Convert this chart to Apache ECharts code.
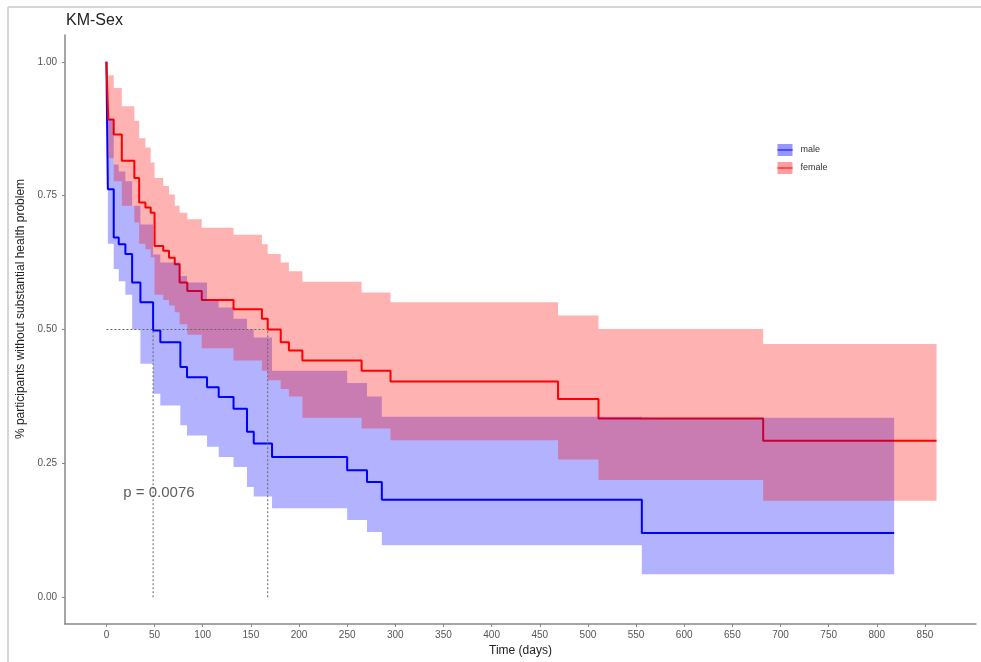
<!DOCTYPE html>
<html>
<head>
<meta charset="utf-8">
<title>KM-Sex</title>
<script src="https://cdn.jsdelivr.net/npm/echarts@6/dist/echarts.min.js"></script>
<style>
  html, body { margin: 0; padding: 0; background: #fff; }
  #chart { width: 981px; height: 662px; }
</style>
</head>
<body>
<div id="chart"></div>
<script>
// Axis ticks
const xTicks = [0, 50, 100, 150, 200, 250, 300, 350, 400, 450, 500, 550, 600, 650, 700, 750, 800, 850];
const yTicks = [0, 0.25, 0.5, 0.75, 1.0];
const yTickLabels = ['0.00', '0.25', '0.50', '0.75', '1.00'];

// Kaplan-Meier estimate for males: event times (days), survival, 95% CI
const maleTime  = [0, 1.5, 7.6, 12.8, 19.7, 26.7, 35.3, 48.5, 56, 76.8, 83.7, 104.5, 116.6, 132, 146, 153, 172, 250, 270.6, 286, 556, 818];
const maleSurv  = [1, 0.762, 0.672, 0.659, 0.641, 0.588, 0.551, 0.498, 0.476, 0.430, 0.411, 0.392, 0.374, 0.352, 0.309, 0.287, 0.262, 0.237, 0.215, 0.182, 0.120, 0.120];
const maleUpper = [1, 0.892, 0.808, 0.795, 0.777, 0.731, 0.696, 0.640, 0.625, 0.600, 0.588, 0.554, 0.541, 0.520, 0.500, 0.485, 0.423, 0.400, 0.375, 0.337, 0.335, 0.335];
const maleLower = [1, 0.660, 0.613, 0.590, 0.565, 0.500, 0.436, 0.380, 0.358, 0.321, 0.302, 0.281, 0.262, 0.243, 0.206, 0.188, 0.166, 0.144, 0.122, 0.097, 0.043, 0.043];

// Kaplan-Meier estimate for females
const femaleTime  = [0, 2, 7.6, 16, 29, 34, 40.5, 46, 50, 59, 65, 71, 76, 84, 99, 132, 161.5, 167.5, 181, 189.5, 203.5, 265, 295, 469, 511, 682, 862];
const femaleSurv  = [1, 0.892, 0.864, 0.815, 0.783, 0.737, 0.728, 0.718, 0.656, 0.647, 0.634, 0.622, 0.588, 0.572, 0.555, 0.538, 0.520, 0.500, 0.476, 0.461, 0.442, 0.423, 0.403, 0.370, 0.334, 0.292, 0.292];
const femaleUpper = [1, 0.975, 0.951, 0.917, 0.890, 0.857, 0.840, 0.812, 0.783, 0.768, 0.752, 0.731, 0.718, 0.706, 0.690, 0.677, 0.659, 0.641, 0.625, 0.609, 0.589, 0.569, 0.551, 0.526, 0.501, 0.473, 0.473];
const femaleLower = [1, 0.820, 0.777, 0.731, 0.700, 0.660, 0.650, 0.635, 0.565, 0.555, 0.545, 0.532, 0.510, 0.490, 0.465, 0.442, 0.423, 0.405, 0.389, 0.375, 0.335, 0.315, 0.293, 0.257, 0.219, 0.180, 0.180];

// Log-rank test annotation
const pText = 'p = 0.0076';
const pPos = [17.5, 0.195];

const groupNames = ['male', 'female'];
const yTitle = '% participants without substantial health problem';

const MALE_LINE = '#0000ff';
const FEMALE_LINE = '#ff0000';
const MALE_FILL = 'rgba(0,0,255,0.3)';
const FEMALE_FILL = 'rgba(255,0,0,0.3)';
const FONT = '"Liberation Sans", Arial, sans-serif';

function pairs(t, v) { return t.map((x, i) => [x, v[i]]); }
function medianTime(t, s) {
  for (let i = 0; i < t.length; i++) if (s[i] <= 0.5) return t[i];
  return null;
}

const maleMedian = medianTime(maleTime, maleSurv);
const femaleMedian = medianTime(femaleTime, femaleSurv);

// Survival curves sit underneath the ribbons
function stepLine(name, data, color) {
  return {
    name, type: 'line', step: 'end', data, z: 1,
    symbol: 'none', silent: true,
    lineStyle: { color, width: 2 },
    itemStyle: { color }
  };
}

// Stepped confidence ribbon: upper edge left-to-right, lower edge back again
function ribbon(t, lo, hi, fill, z) {
  return {
    type: 'custom', silent: true, z,
    data: [[t[0], lo[0]]],
    renderItem: (params, api) => {
      const pts = [];
      for (let i = 0; i < t.length; i++) {
        pts.push(api.coord([t[i], hi[i]]));
        if (i + 1 < t.length) pts.push(api.coord([t[i + 1], hi[i]]));
      }
      for (let i = t.length - 1; i >= 0; i--) {
        if (i + 1 < t.length) pts.push(api.coord([t[i + 1], lo[i]]));
        pts.push(api.coord([t[i], lo[i]]));
      }
      return { type: 'polygon', shape: { points: pts }, style: { fill: fill } };
    }
  };
}

function dotted(data) {
  return {
    type: 'line', data, symbol: 'none', silent: true, z: 5,
    lineStyle: { color: '#666', width: 1, type: [2, 2] }
  };
}

const chart = echarts.init(document.getElementById('chart'), null, { renderer: 'canvas' });

chart.setOption({
  animation: false,
  backgroundColor: '#fff',
  title: {
    text: 'KM-Sex', left: 66, top: 13, padding: 0,
    textStyle: { fontFamily: FONT, fontSize: 16, fontWeight: 'normal', color: '#222' }
  },
  grid: { left: 65, right: 5, top: 35, bottom: 36, containLabel: false },
  xAxis: {
    type: 'value', min: -43, max: 903,
    name: 'Time (days)', nameLocation: 'middle', nameGap: 21,
    nameTextStyle: { fontFamily: FONT, fontSize: 12, color: '#222' },
    axisLine: { show: true, onZero: false, lineStyle: { color: '#888', width: 1.5 } },
    axisTick: { show: true, length: 3, customValues: xTicks, lineStyle: { color: '#888' } },
    axisLabel: { customValues: xTicks, margin: 6, fontFamily: FONT, fontSize: 10, color: '#555' },
    splitLine: { show: false }
  },
  yAxis: {
    type: 'value', min: -0.05, max: 1.05,
    axisLine: { show: true, onZero: false, lineStyle: { color: '#888', width: 1.5 } },
    axisTick: { show: true, length: 3, customValues: yTicks, lineStyle: { color: '#888' } },
    axisLabel: {
      customValues: yTicks, margin: 8, fontFamily: FONT, fontSize: 10, color: '#555',
      formatter: (v) => yTickLabels[yTicks.findIndex(t => Math.abs(t - v) < 1e-9)]
    },
    splitLine: { show: false }
  },
  series: [
    stepLine(groupNames[0], pairs(maleTime, maleSurv), MALE_LINE),
    stepLine(groupNames[1], pairs(femaleTime, femaleSurv), FEMALE_LINE),
    ribbon(maleTime, maleLower, maleUpper, MALE_FILL, 3),
    ribbon(femaleTime, femaleLower, femaleUpper, FEMALE_FILL, 4),
    // median survival guides
    dotted([[0, 0.5], [Math.max(maleMedian, femaleMedian), 0.5]]),
    dotted([[maleMedian, 0], [maleMedian, 0.5]]),
    dotted([[femaleMedian, 0], [femaleMedian, 0.5]]),
    // p-value
    {
      type: 'scatter', data: [pPos], symbolSize: 0, silent: true, z: 6,
      label: {
        show: true, position: 'right', distance: 0, formatter: pText,
        fontFamily: FONT, fontSize: 15, color: '#333'
      }
    }
  ],
  graphic: [
    // outer frame
    { type: 'line', z: 10, shape: { x1: 8, y1: 7, x2: 981, y2: 7 }, style: { stroke: '#c8c8c8', lineWidth: 1.5 } },
    { type: 'line', z: 10, shape: { x1: 8, y1: 7, x2: 8, y2: 662 }, style: { stroke: '#c8c8c8', lineWidth: 1.5 } },
    // y-axis title
    {
      type: 'text', z: 10, x: 21, y: 309, rotation: Math.PI / 2,
      style: { text: yTitle, fontFamily: FONT, fontSize: 12, fill: '#222', align: 'center', verticalAlign: 'middle' }
    },
    // legend
    {
      type: 'group', left: 775, top: 144, z: 10,
      children: [
        { type: 'rect', shape: { x: 0, y: 0, width: 15, height: 12 }, style: { fill: 'rgb(150,150,255)' } },
        { type: 'line', shape: { x1: 0, y1: 6, x2: 15, y2: 6 }, style: { stroke: '#4d4dff', lineWidth: 2 } },
        { type: 'text', x: 23, y: 6, style: { text: groupNames[0], fontFamily: FONT, fontSize: 9, fill: '#333', verticalAlign: 'middle' } },
        { type: 'rect', shape: { x: 0, y: 18, width: 15, height: 12 }, style: { fill: 'rgb(255,160,160)' } },
        { type: 'line', shape: { x1: 0, y1: 24, x2: 15, y2: 24 }, style: { stroke: '#ff4d4d', lineWidth: 2 } },
        { type: 'text', x: 23, y: 24, style: { text: groupNames[1], fontFamily: FONT, fontSize: 9, fill: '#333', verticalAlign: 'middle' } }
      ]
    }
  ]
});
</script>
</body>
</html>
